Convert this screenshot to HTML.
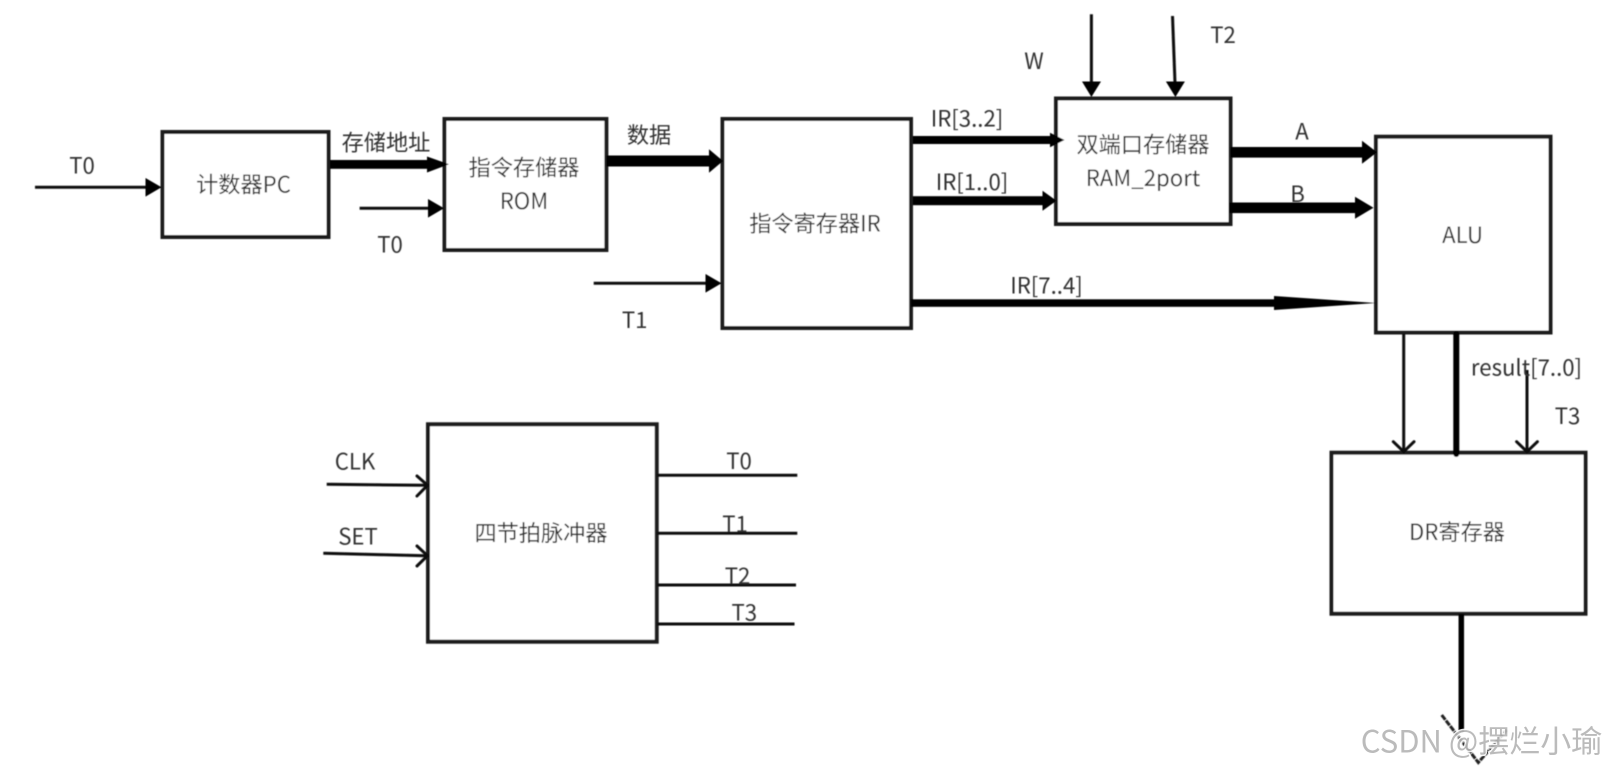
<!DOCTYPE html>
<html><head><meta charset="utf-8"><style>
html,body{margin:0;padding:0;background:#fff;width:1608px;height:769px;overflow:hidden}
svg{display:block;position:absolute;left:0;top:0}
text{font-family:"Noto Sans CJK SC","Liberation Sans",sans-serif;font-size:22.2px;fill:#333;text-anchor:middle;dominant-baseline:central}
.b{fill:#fff;stroke:#1c1c1c;stroke-width:4}
.l{stroke:#111;fill:none;stroke-width:3}
.o{stroke:#111;fill:none;stroke-width:3;stroke-linecap:round;stroke-linejoin:round}
.h{fill:#000}
</style></head><body>
<svg width="1608" height="769" viewBox="0 0 1608 769" xmlns="http://www.w3.org/2000/svg">
<defs><filter id="bl" x="0" y="0" width="100%" height="100%" filterUnits="userSpaceOnUse"><feGaussianBlur stdDeviation="0.45"/></filter></defs>
<g filter="url(#bl)">
<rect class="b" x="162.5" y="132" width="166" height="105"/>
<rect class="b" x="444.5" y="119" width="161.9" height="131"/>
<rect class="b" x="722.5" y="119" width="188.5" height="209"/>
<rect class="b" x="1056" y="98.5" width="174.5" height="125.5"/>
<rect class="b" x="1376" y="136.7" width="174.5" height="195.8"/>
<rect class="b" x="1331.5" y="452.7" width="254" height="161"/>
<rect class="b" x="428" y="424.3" width="228.7" height="217.4"/>

<!-- T0 to PC -->
<line class="l" x1="35" y1="187.3" x2="146" y2="187.3"/><polygon class="h" points="145.5,178 161.5,187.3 145.5,196.6"/>
<!-- PC to ROM -->
<rect class="h" x="330" y="160" width="99" height="8.8"/><polygon class="h" points="427,156.5 449,164.3 427,172.5"/>
<!-- T0 to ROM -->
<line class="l" x1="359.6" y1="208.3" x2="430" y2="208.3"/><polygon class="h" points="428,199 444,208.3 428,217.6"/>
<!-- ROM to IR -->
<rect class="h" x="606.4" y="155.5" width="104" height="11"/><polygon class="h" points="709,149.3 723,161 709,172.7"/>
<!-- T1 to IR -->
<line class="l" x1="593.7" y1="283.3" x2="707" y2="283.3"/><polygon class="h" points="705.5,274 721.5,283.3 705.5,292.6"/>
<!-- IR to RAM -->
<rect class="h" x="913" y="136" width="138" height="8"/><polygon class="h" points="1050,132.7 1064.5,140 1050,147.3"/>
<rect class="h" x="913" y="196.2" width="131" height="9"/><polygon class="h" points="1042.5,190.7 1056.5,200.7 1042.5,210.7"/>
<!-- W, T2 -->
<line class="l" x1="1091.4" y1="14.3" x2="1091.4" y2="83"/><polygon class="h" points="1082,81.5 1101,81.5 1091.4,97"/>
<line class="l" x1="1172.5" y1="16" x2="1175" y2="83"/><polygon class="h" points="1165.9,81.5 1184.9,81.5 1175.4,97"/>
<!-- A, B -->
<rect class="h" x="1230.4" y="147" width="133" height="10.6"/><polygon class="h" points="1362,140.8 1377,152.3 1362,163.8"/>
<rect class="h" x="1229" y="202.5" width="127" height="10.6"/><polygon class="h" points="1355,196.8 1373.5,207.8 1355,218.8"/>
<!-- IR[7..4] -->
<rect class="h" x="911" y="299.3" width="364" height="7.5"/><polygon class="h" points="1274,296 1376,303 1274,310"/>
<!-- ALU to DR -->
<line class="l" x1="1403.7" y1="334" x2="1403.7" y2="451"/><polyline class="o" points="1393.3,441.7 1403.7,451.7 1414,441.7"/>
<line x1="1456.3" y1="334" x2="1456.3" y2="454" stroke="#000" stroke-width="6" stroke-linecap="round"/>
<line class="l" x1="1527" y1="370" x2="1527" y2="451"/><polyline class="o" points="1516.6,441.7 1527,451.7 1537.4,441.7"/>
<!-- DR out -->
<line x1="1461.3" y1="614" x2="1461.3" y2="732" stroke="#000" stroke-width="5.5"/>
<polyline points="1441.7,715 1478.3,762.5 1506.7,730" fill="none" stroke="#222" stroke-width="3" stroke-dasharray="6 1"/>
<!-- pulse -->
<line class="l" x1="326.7" y1="484.3" x2="426" y2="485.3"/><polyline class="o" points="417,476 427.5,485.3 417,496"/>
<line class="l" x1="323.3" y1="553.3" x2="426" y2="555.7"/><polyline class="o" points="417,546 427.5,555.7 417,566"/>
<line class="l" x1="657" y1="475.3" x2="797.3" y2="475.3"/>
<line class="l" x1="657" y1="533.3" x2="797.3" y2="533.3"/>
<line class="l" x1="657" y1="585" x2="796" y2="585"/>
<line class="l" x1="657" y1="624" x2="794.5" y2="624"/>

<text x="82" y="164.5">T0</text>
<text x="243.5" y="183.5">计数器PC</text>
<text x="386" y="141.5">存储地址</text>
<text x="524" y="166.5">指令存储器</text>
<text x="524" y="200">ROM</text>
<text x="390" y="243.5">T0</text>
<text x="649" y="134">数据</text>
<text x="634.7" y="319">T1</text>
<text x="815" y="222.5">指令寄存器IR</text>
<text x="967" y="117.5">IR[3..2]</text>
<text x="972" y="181">IR[1..0]</text>
<text x="1046.5" y="284.5">IR[7..4]</text>
<text x="1143" y="143.5">双端口存储器</text>
<text x="1143" y="177">RAM_2port</text>
<text x="1034" y="60">W</text>
<text x="1223" y="34">T2</text>
<text x="1302" y="130.5">A</text>
<text x="1297.6" y="193">B</text>
<text x="1462.6" y="234">ALU</text>
<text x="1526.5" y="366.5">result[7..0]</text>
<text x="1567.5" y="415">T3</text>
<text x="1457" y="531">DR寄存器</text>
<text x="541" y="532">四节拍脉冲器</text>
<text x="355" y="460.7">CLK</text>
<text x="358" y="535.5">SET</text>
<text x="739" y="460">T0</text>
<text x="735" y="523">T1</text>
<text x="737.5" y="575">T2</text>
<text x="744.3" y="611.7">T3</text>
</g>
<text x="1481.5" y="739" style="font-size:31px;fill:#b4b4b4;stroke:#fff;stroke-width:3px;paint-order:stroke;opacity:.9">CSDN @摆烂小瑜</text>
</svg>
</body></html>
